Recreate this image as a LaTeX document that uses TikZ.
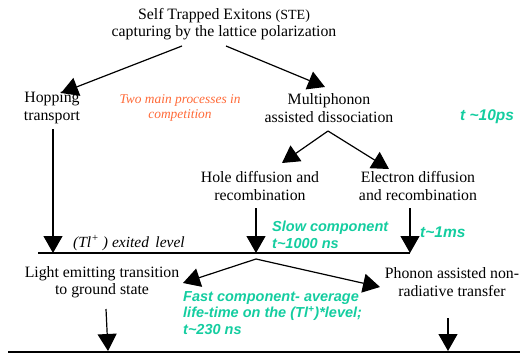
\documentclass[tikz,border=0pt]{standalone}
\usepackage{fontspec}
\setmainfont{Liberation Serif}
\setsansfont{Liberation Sans}
\usetikzlibrary{arrows.meta}
\definecolor{tealtxt}{RGB}{20,205,160}
\definecolor{orangetxt}{RGB}{255,105,55}
\begin{document}
\begin{tikzpicture}[x=1pt,y=-1pt,
			txt/.style={align=center,inner sep=0pt,font=\fontsize{15.8}{17.5}\selectfont},
			tnote/.style={align=left,inner sep=0pt,text=tealtxt,font=\fontsize{14.5}{16.5}\sffamily\bfseries\itshape},
			tbig/.style={tnote,font=\fontsize{15.5}{16.5}\sffamily\bfseries\itshape},
			arr/.style={line width=1.2pt,-{Triangle[length=17pt,width=19pt]}},
			lvl/.style={line width=1.5pt}
			]
			\useasboundingbox (0,0) rectangle (520,356);
			\node[txt] (ste) at (224,24) {Self Trapped Exitons {\fontsize{14}{17.5}\selectfont(STE)}\\capturing by the lattice polarization};
			\node[txt] (hop) at (52,108) {Hopping\\transport};
			\node[txt,text=orangetxt,font=\fontsize{13.4}{15}\itshape] (comp) at (180,108) {Two main processes in\\competition};
			\node[txt] (mult) at (329,108) {Multiphonon\\assisted dissociation};
			\node[tbig,anchor=west] (t1) at (460,117) {t \char`\~10ps};
			\node[txt] (hole) at (260,186) {Hole diffusion and\\recombination};
			\node[txt] (elec) at (418,186) {Electron diffusion\\and recombination};
			%%%%%%%%%%%%%%%5
			\node[txt,font=\fontsize{15.5}{15}\itshape,anchor=west] (exc) at (73,243) {(Tl\textsuperscript{+} ) exited\, level};
			\node[tnote,anchor=west] (slow) at (272,235) {Slow component\\t\char`\~1000 ns};
			\node[tbig,anchor=west] (t2) at (420,232) {t\char`\~1ms};
			\node[txt] (light) at (102,282) {Light emitting transition\\to ground state};
			\node[txt] (phon) at (452,282) {Phonon assisted non-\\radiative transfer};
			\node[tnote,anchor=west] (fast) at (183,313) {Fast component- average\\life-time on the (Tl\textsuperscript{+})*level;\\t\char`\~230 ns};
			%%%%%%%%%%%%%%%5
			\coordinate (s1) at (182,46);
			\coordinate (s2) at (226,46);
			\coordinate (h1) at (61,93);
			\coordinate (m1) at (325,87);
			\coordinate (m2) at (328,131);
			\coordinate (k1) at (282,163);
			\coordinate (k2) at (389,169);
			\coordinate (h2) at (53,129);
			\coordinate (h3) at (53,253);
			\coordinate (k3) at (256,208);
			\coordinate (k4) at (256,253);
			\coordinate (k5) at (410,208);
			\coordinate (k6) at (410,253);
			\coordinate (e1) at (38,253);
			\coordinate (e2) at (256,259);
			\coordinate (l1) at (183,283);
			\coordinate (p1) at (380,287);
			\coordinate (l2) at (106,309);
			\coordinate (l3) at (108,351);
			\coordinate (p2) at (448,318);
			\coordinate (p3) at (448,351);
			\coordinate (g1) at (8,352);
			\coordinate (g2) at (520,352);
			\draw[arr] (s1) -- (h1);
			\draw[arr] (s2) -- (m1);
			\draw[arr] (m2) -- (k1);
			\draw[arr] (m2) -- (k2);
			\draw[arr] (h2) -- (h3);
			\draw[arr] (k3) -- (k4);
			\draw[arr] (k5) -- (k6);
			\draw[lvl] (e1) -- (k6);
			\draw[arr] (e2) -- (l1);
			\draw[arr] (e2) -- (p1);
			\draw[arr] (l2) -- (l3);
			\draw[arr] (p2) -- (p3);
			\draw[lvl] (g1) -- (g2);
		\end{tikzpicture}
\end{document}
